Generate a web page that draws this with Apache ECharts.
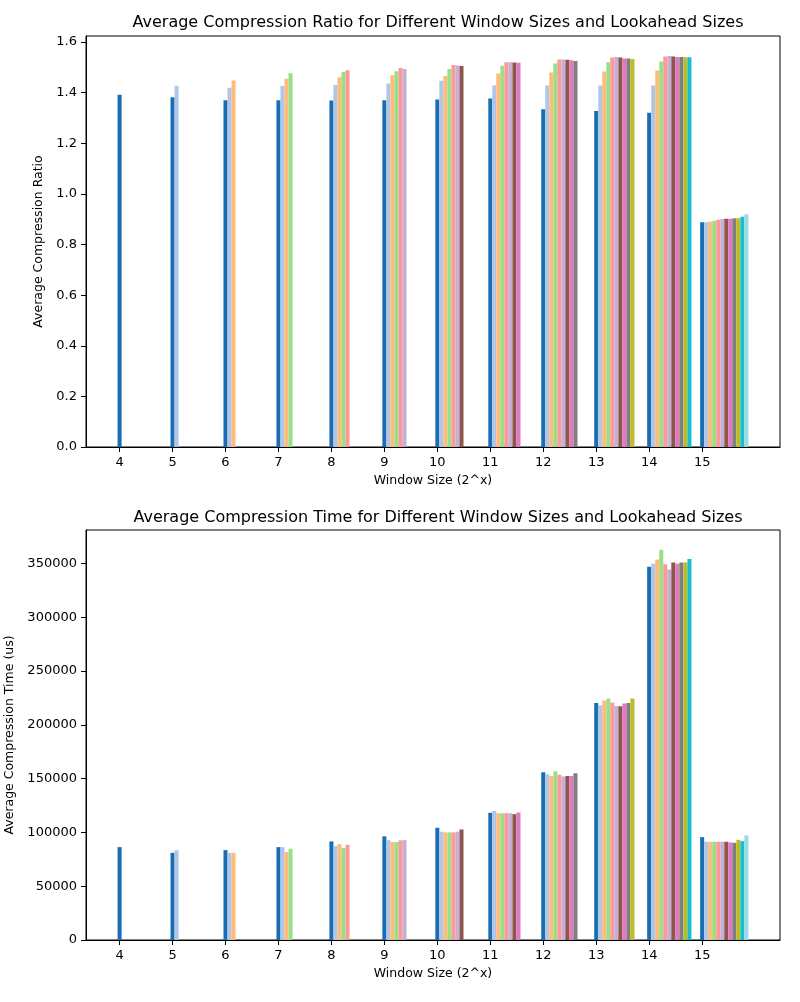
<!DOCTYPE html>
<html>
<head>
<meta charset="utf-8">
<script src="https://cdn.jsdelivr.net/npm/echarts@6/dist/echarts.min.js"></script>
<style>html,body{margin:0;padding:0;background:#fff}#c{width:800px;height:1002px}</style>
</head>
<body>
<div id="c"></div>
<script>
// Window sizes (2^x) and lookahead sizes
const windows = [4, 5, 6, 7, 8, 9, 10, 11, 12, 13, 14, 15];
const lookaheads = [1, 2, 3, 4, 5, 6, 7, 8, 9, 10, 11, 12];
const colors = ['#1a6cb3', '#aec7e8', '#ffbb78', '#98df8a', '#ff9896', '#c5b0d5',
                '#8c564b', '#e377c2', '#7f7f7f', '#bcbd22', '#17becf', '#9edae5'];

// Average compression ratio, one list per window size (lookahead 1..n)
const ratio = [
  [1.392],
  [1.382, 1.427],
  [1.370, 1.420, 1.448],
  [1.370, 1.426, 1.455, 1.477],
  [1.369, 1.430, 1.461, 1.482, 1.489],
  [1.370, 1.436, 1.469, 1.485, 1.498, 1.494],
  [1.373, 1.447, 1.466, 1.494, 1.509, 1.507, 1.505],
  [1.377, 1.428, 1.476, 1.506, 1.520, 1.520, 1.519, 1.518],
  [1.335, 1.428, 1.480, 1.515, 1.531, 1.531, 1.530, 1.528, 1.525],
  [1.328, 1.428, 1.484, 1.520, 1.539, 1.541, 1.539, 1.535, 1.535, 1.533],
  [1.321, 1.428, 1.488, 1.523, 1.543, 1.545, 1.543, 1.541, 1.541, 1.540, 1.540],
  [0.888, 0.888, 0.891, 0.894, 0.898, 0.901, 0.902, 0.902, 0.904, 0.904, 0.910, 0.920]
];

// Average compression time (us), one list per window size
const timeUs = [
  [86300],
  [81000, 83300],
  [83500, 81000, 81000],
  [86300, 86300, 81700, 84800],
  [91600, 87300, 89100, 85400, 88500],
  [96300, 92800, 91000, 91000, 92600, 92800],
  [104300, 100600, 100000, 100000, 100000, 100600, 102700],
  [118200, 119800, 117800, 117800, 117800, 117800, 116900, 118500],
  [156000, 154100, 152300, 156900, 153500, 152000, 152300, 152300, 155000],
  [220300, 218200, 222500, 224400, 220700, 217500, 217300, 219700, 220300, 224400],
  [346900, 349700, 353700, 362700, 349100, 344200, 350700, 349700, 350700, 350900, 354000],
  [95600, 91300, 91300, 91300, 91300, 91300, 91300, 90700, 90300, 93100, 91900, 97200]
];

const ratioTicks = [0, 0.2, 0.4, 0.6, 0.8, 1.0, 1.2, 1.4, 1.6];
const timeTicks = [0, 50000, 100000, 150000, 200000, 250000, 300000, 350000];

const BAR_W = 0.076;
const FONT = 'DejaVu Sans';

function buildSeries(values, axisIndex) {
  return lookaheads.map((la, i) => {
    const data = [];
    windows.forEach((w, wi) => {
      if (values[wi].length > i) data.push([w, values[wi][i]]);
    });
    return {
      type: 'custom',
      name: 'Lookahead ' + la,
      xAxisIndex: axisIndex,
      yAxisIndex: axisIndex,
      data: data,
      renderItem: function (params, api) {
        const xv = api.value(0) + i * BAR_W;
        const top = api.coord([xv, api.value(1)]);
        const base = api.coord([xv, 0]);
        const bw = api.size([BAR_W, 0])[0];
        return {
          type: 'rect',
          shape: { x: top[0] - bw / 2, y: top[1], width: bw, height: base[1] - top[1] },
          style: { fill: colors[i] }
        };
      }
    };
  });
}

function xAxis(gi) {
  return {
    type: 'value', gridIndex: gi, min: 3.366, max: 16.47,
    name: 'Window Size (2^x)', nameLocation: 'middle', nameGap: 27,
    nameTextStyle: { fontFamily: FONT, fontSize: 12.5, color: '#000' },
    axisLine: { show: true, onZero: false, lineStyle: { color: '#000', width: 1 } },
    axisTick: { show: true, length: 5, lineStyle: { color: '#000' }, customValues: windows },
    axisLabel: { fontFamily: FONT, fontSize: 13, color: '#000', margin: 9, customValues: windows },
    splitLine: { show: false }
  };
}

function yAxis(gi, max, ticks, name, gap, fmt) {
  return {
    type: 'value', gridIndex: gi, min: 0, max: max,
    name: name, nameLocation: 'middle', nameGap: gap, nameRotate: 90,
    nameTextStyle: { fontFamily: FONT, fontSize: 12.5, color: '#000' },
    axisLine: { show: true, lineStyle: { color: '#000', width: 1 } },
    axisTick: { show: true, length: 5, lineStyle: { color: '#000' }, customValues: ticks },
    axisLabel: { fontFamily: FONT, fontSize: 13, color: '#000', margin: 9, customValues: ticks, formatter: fmt },
    splitLine: { show: false }
  };
}

const chart = echarts.init(document.getElementById('c'), null, { renderer: 'canvas' });
chart.setOption({
  animation: false,
  backgroundColor: '#fff',
  title: [
    { text: 'Average Compression Ratio for Different Window Sizes and Lookahead Sizes',
      left: 433, top: 10, textAlign: 'center',
      textStyle: { fontFamily: FONT, fontSize: 16, fontWeight: 'normal', color: '#000' } },
    { text: 'Average Compression Time for Different Window Sizes and Lookahead Sizes',
      left: 433, top: 505, textAlign: 'center',
      textStyle: { fontFamily: FONT, fontSize: 16, fontWeight: 'normal', color: '#000' } }
  ],
  grid: [
    { left: 86, right: 20, top: 36, bottom: 555, show: true, borderColor: '#000', borderWidth: 1,
      backgroundColor: 'transparent', containLabel: false, outerBoundsMode: 'none' },
    { left: 86, right: 20, top: 530, bottom: 62, show: true, borderColor: '#000', borderWidth: 1,
      backgroundColor: 'transparent', containLabel: false, outerBoundsMode: 'none' }
  ],
  xAxis: [xAxis(0), xAxis(1)],
  yAxis: [
    yAxis(0, 1.624, ratioTicks, 'Average Compression Ratio', 38, v => v.toFixed(1)),
    yAxis(1, 381000, timeTicks, 'Average Compression Time (us)', 50, v => String(Math.round(v)))
  ],
  series: buildSeries(ratio, 0).concat(buildSeries(timeUs, 1))
});
</script>
</body>
</html>
